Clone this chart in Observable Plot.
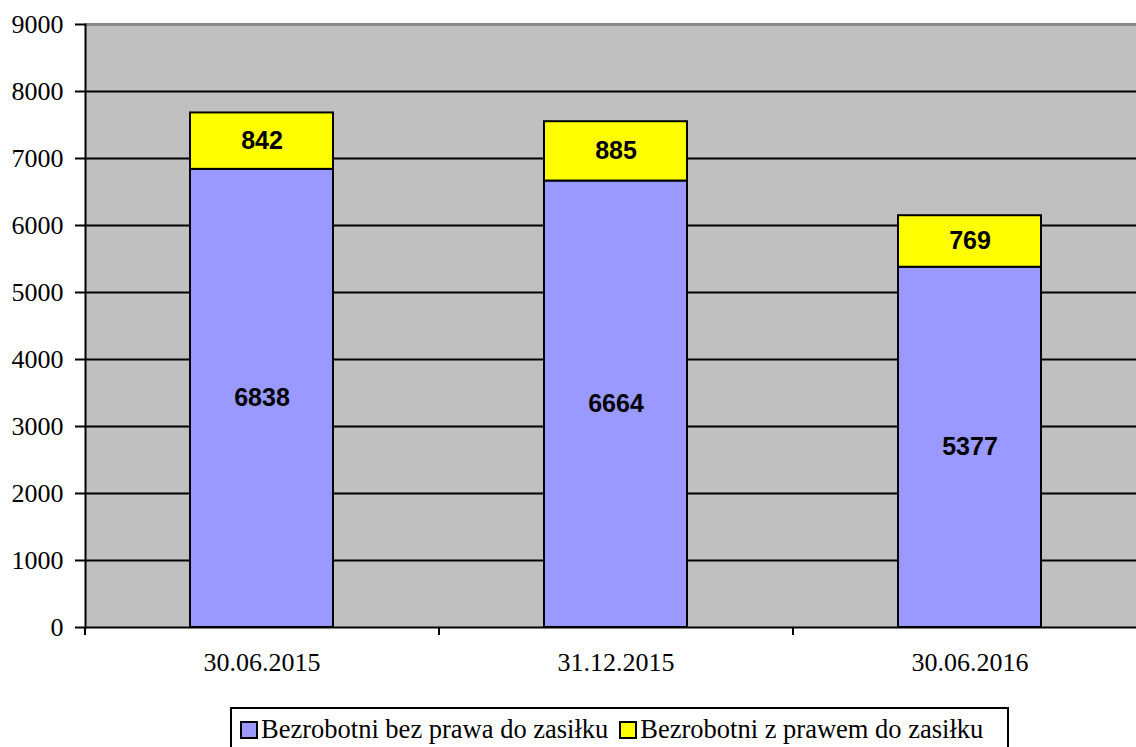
<!DOCTYPE html>
<html>
<head>
<meta charset="utf-8">
<script src="https://cdn.jsdelivr.net/npm/d3@7"></script>
<script src="https://cdn.jsdelivr.net/npm/@observablehq/plot@0.6"></script>
<style>
  html, body { margin: 0; padding: 0; background: #fff; width: 1136px; height: 747px; overflow: hidden; }
  #chart { position: absolute; left: 0; top: 0; }
  #legend {
    position: absolute; left: 230px; top: 707px; width: 779px; height: 60px;
    border: 2px solid #000; box-sizing: border-box; background: #fff;
    font-family: "Liberation Serif", "Times New Roman", serif; font-size: 26.5px; color: #000;
    display: flex; align-items: flex-start; padding-left: 8px; padding-top: 5px; white-space: nowrap;
  }
  .item { display: flex; align-items: center; margin-right: 11px; }
  .sw { width: 14px; height: 14px; border: 2px solid #000; margin-right: 3px; margin-top: 1px; }
</style>
</head>
<body>
<div id="chart"></div>
<div id="legend"></div>
<script>
const categories = ["30.06.2015", "31.12.2015", "30.06.2016"];
const seriesNames = ["Bezrobotni bez prawa do zasiłku", "Bezrobotni z prawem do zasiłku"];
const seriesColors = ["#9999ff", "#ffff00"];
const bezPrawa = [6838, 6664, 5377];
const zPrawem = [842, 885, 769];
const yTicks = [0, 1000, 2000, 3000, 4000, 5000, 6000, 7000, 8000, 9000];

const data = categories.flatMap((c, i) => [
  {cat: c, series: seriesNames[0], value: bezPrawa[i]},
  {cat: c, series: seriesNames[1], value: zPrawem[i]}
]);

const serif = "'Liberation Serif', 'Times New Roman', serif";

const chart = Plot.plot({
  width: 1136,
  height: 700,
  marginLeft: 85,
  marginRight: 0,
  marginTop: 24,
  marginBottom: 73,
  x: {domain: categories, range: [85, 1147], paddingInner: 0.596, paddingOuter: 0.298},
  y: {domain: [0, 9000]},
  color: {domain: seriesNames, range: seriesColors},
  style: {fontFamily: serif, fontSize: "26px", color: "#000", background: "#fff", overflow: "hidden"},
  marks: [
    Plot.frame({fill: "#c0c0c0", stroke: null}),
    Plot.ruleY(yTicks.filter(t => t > 0 && t < 9000), {stroke: "#000", strokeWidth: 2}),
    Plot.ruleY([9000], {stroke: "#888", strokeWidth: 3}),
    Plot.barY(data, {x: "cat", y: "value", fill: "series", stroke: "#000", strokeWidth: 2}),
    Plot.text(data, Plot.stackY({
      x: "cat", y: "value", z: "series", text: d => String(d.value),
      fontFamily: "'Liberation Sans', Arial, sans-serif", fontWeight: "bold", fontSize: 25, fill: "#000"
    })),
    Plot.ruleY([0], {stroke: "#000", strokeWidth: 2}),
    Plot.frame({anchor: "left", stroke: "#000", strokeWidth: 2}),
    Plot.ruleX(categories, {x: d => d, dx: -177, y1: 0, y2: -120, stroke: "#000", strokeWidth: 2}),
    Plot.axisY({ticks: yTicks, label: null, tickSize: 10, tickPadding: 12, tickFormat: d => String(d), strokeWidth: 2, fontSize: 26, fontFamily: serif}),
    Plot.axisX({label: null, tickSize: 0, tickPadding: 25, fontSize: 26, fontFamily: serif})
  ]
});
document.getElementById("chart").append(chart);

const legend = document.getElementById("legend");
seriesNames.forEach((name, i) => {
  const item = document.createElement("div");
  item.className = "item";
  const sw = document.createElement("div");
  sw.className = "sw";
  sw.style.background = seriesColors[i];
  const t = document.createElement("span");
  t.textContent = name;
  item.append(sw, t);
  legend.append(item);
});
</script>
</body>
</html>
